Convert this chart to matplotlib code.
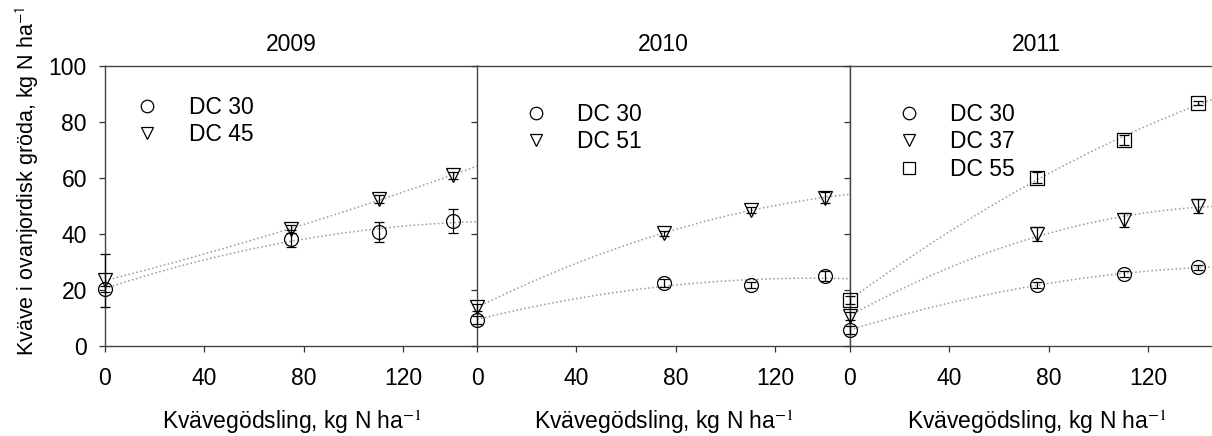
import numpy as np
import matplotlib
matplotlib.use('Agg')
from matplotlib import pyplot as plt
from matplotlib.lines import Line2D

plt.rcParams['font.family'] = ['Liberation Sans', 'DejaVu Sans']
plt.rcParams['mathtext.fontset'] = 'stix'

years = ['2009', '2010', '2011']
n_rate = [0, 75, 110, 140]

# 2009
dc30_2009 = [20.4, 38.3, 40.6, 44.6]
dc30_2009_err = [1.0, 3.0, 3.6, 4.2]
dc45_2009 = [23.4, 41.8, 52.4, 61.0]
dc45_2009_err = [9.4, 1.5, 1.5, 1.2]
# 2010
dc30_2010 = [9.3, 22.6, 21.8, 25.0]
dc30_2010_err = [1.5, 1.5, 1.2, 1.8]
dc51_2010 = [13.8, 40.2, 48.6, 53.0]
dc51_2010_err = [1.2, 1.0, 1.0, 2.0]
# 2011
dc30_2011 = [5.7, 21.8, 25.7, 28.1]
dc30_2011_err = [1.5, 1.2, 1.0, 1.0]
dc37_2011 = [10.7, 39.9, 45.0, 50.1]
dc37_2011_err = [1.5, 2.5, 2.5, 2.5]
dc55_2011 = [16.4, 60.1, 73.6, 86.7]
dc55_2011_err = [1.5, 2.0, 1.8, 0.8]

panels = [
    [('DC 30', 'o', dc30_2009, dc30_2009_err), ('DC 45', 'v', dc45_2009, dc45_2009_err)],
    [('DC 30', 'o', dc30_2010, dc30_2010_err), ('DC 51', 'v', dc51_2010, dc51_2010_err)],
    [('DC 30', 'o', dc30_2011, dc30_2011_err), ('DC 37', 'v', dc37_2011, dc37_2011_err),
     ('DC 55', 's', dc55_2011, dc55_2011_err)],
]

W, H = 1212, 436
fig = plt.figure(figsize=(W / 100, H / 100), dpi=100)

lefts = [105, 477, 850]
width = 373
legend_pos = [(0.058, 0.927), (0.103, 0.902), (0.103, 0.902)]
fs = 16.5

for i, (yr, series) in enumerate(zip(years, panels)):
    ax = fig.add_axes([lefts[i] / W, (H - 346) / H, width / W, 280 / H])
    xx = np.linspace(0, 150, 100)
    handles = []
    for lab, mk, vals, err in series:
        c = np.polyfit(n_rate, vals, 2)
        ax.plot(xx, np.polyval(c, xx), ls=':', color='#9a9a9a', lw=1.1, zorder=1)
        ax.errorbar(n_rate, vals, yerr=err, fmt=mk, mfc='none', mec='black', ms=10,
                    mew=0.9, ecolor='black', elinewidth=0.9, capsize=3.6, capthick=0.9,
                    clip_on=False, zorder=3)
        handles.append(Line2D([], [], ls='none', marker=mk, mfc='none', mec='black',
                              ms=9, mew=0.9, label=lab))
    ax.set_xlim(0, 150)
    ax.set_ylim(0, 100)
    ax.set_xticks([0, 40, 80, 120])
    ax.set_yticks([0, 20, 40, 60, 80, 100])
    ax.tick_params(direction='out', length=4, width=0.9, labelsize=fs, colors='#333333',
                   labelcolor='black')
    ax.tick_params(axis='x', pad=11)
    ax.tick_params(axis='y', pad=9)
    if i > 0:
        ax.set_yticklabels([])
    for s in ax.spines.values():
        s.set_color('#444444')
        s.set_linewidth(1.0)
    ax.set_title(yr, fontsize=fs, pad=11)
    ax.set_xlabel(r'Kvävegödsling, kg N ha$^{\mathsf{-}1}$', fontsize=16.5, labelpad=13)
    ax.legend(handles=handles, loc='upper left', bbox_to_anchor=legend_pos[i],
              frameon=False, fontsize=fs, handlelength=1.0, handletextpad=1.3,
              labelspacing=0.2, borderaxespad=0)

fig.text(27 / W, 1 - 181 / H, r'Kväve i ovanjordisk gröda, kg N ha$^{\mathsf{-1}}$',
         rotation=90, fontsize=15.5, ha='center', va='center')

fig.savefig('out.png', dpi=100)
